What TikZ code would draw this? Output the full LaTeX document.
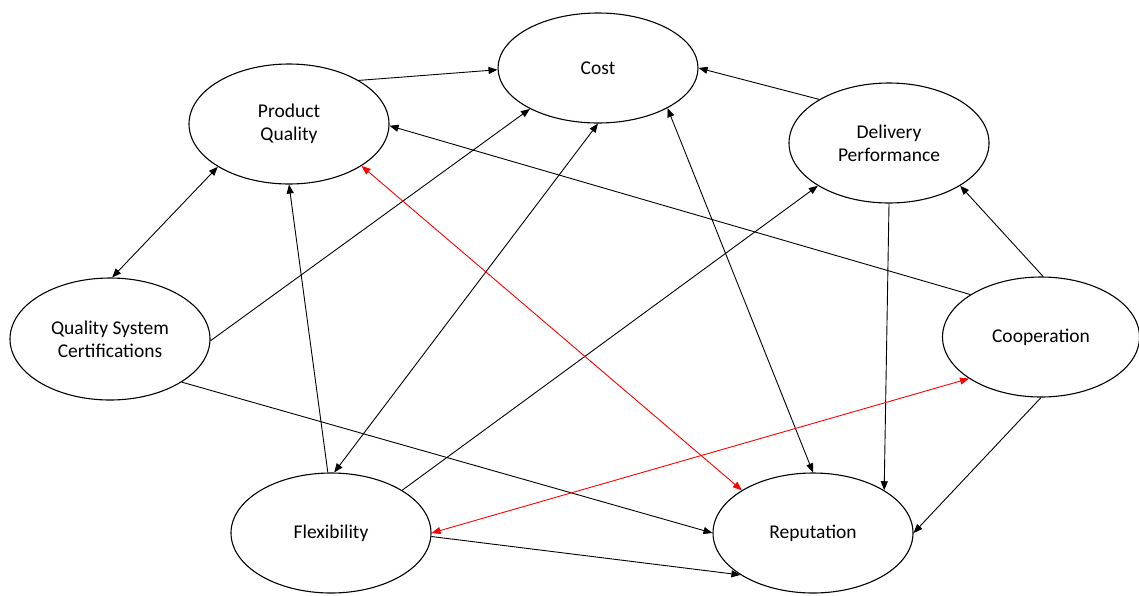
\documentclass[tikz,border=0pt]{standalone}
\usepackage{fontspec}
\setmainfont{Carlito}
\usetikzlibrary{shapes.geometric,arrows.meta}
\begin{document}
\begin{tikzpicture}[x=1pt, y=-1pt, >={Triangle[length=9pt,width=7pt]},
  factor/.style={draw, ellipse, line width=1.1pt, minimum width=200pt, minimum height=120pt,
    inner sep=0pt, align=center, font=\fontsize{19.5}{23}\selectfont},
  link/.style={line width=0.9pt},
  redlink/.style={link, red}]
 \useasboundingbox (0,0) rectangle (1139,595);
 \node[factor, minimum height=110pt] (cost) at (598,68) {Cost};
 \node[factor] (pq) at (289,124) {Product\\Quality};
 \node[factor] (dp) at (889,143) {Delivery\\Performance};
 \node[factor, minimum height=122pt] (qsc) at (110,339) {Quality System\\Certifications};
 \node[factor, minimum width=197pt] (coop) at (1041,337) {Cooperation};
 \node[factor] (flex) at (331,533) {Flexibility};
 \node[factor] (rep) at (813,533) {Reputation};

 \draw[link,->] (pq.32)--(cost.181);
 \draw[link,->] (dp.148)--(cost.0);
 \draw[link,->] (coop.149)--(pq.-1);
 \draw[link,->] (coop.88)--(dp.-31);
 \draw[link,<->] (pq.211)--(qsc.88);
 \draw[link,->] (qsc.-1)--(cost.211);
 \draw[link,->] (flex.93)--(pq.270);
 \draw[link,<->] (flex.87)--(cost.270);
 \draw[link,<->] (cost.-30)--(rep.90);
 \draw[link,->] (flex.31)--(dp.211);
 \draw[link,->] (qsc.-31)--(rep.180);
 \draw[link,->] (flex.-2)--(rep.210);
 \draw[link,->] (dp.270)--(rep.31);
 \draw[link,->] (coop.270)--(rep.0);
 \draw[redlink,<->] (pq.-30)--(rep.149);
 \draw[redlink,<->] (flex.0)--(coop.210);
\end{tikzpicture}
\end{document}
